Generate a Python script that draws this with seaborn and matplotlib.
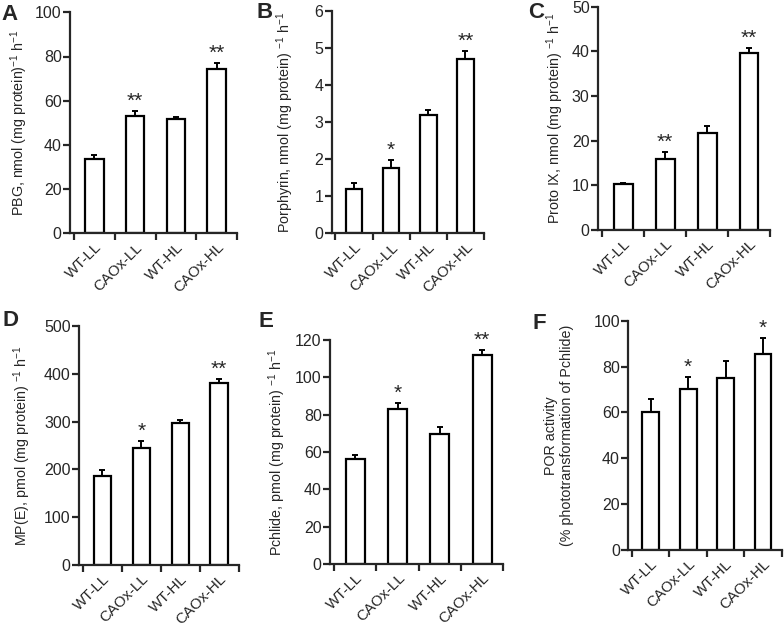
import numpy as np
import pandas as pd
import matplotlib
matplotlib.use("Agg")
import matplotlib.pyplot as plt
import seaborn as sns

sns.set_style("ticks")
plt.rcParams['font.family'] = ['Liberation Sans', 'DejaVu Sans']
plt.rcParams['mathtext.default'] = 'regular'

categories = ["WT-LL", "CAOx-LL", "WT-HL", "CAOx-HL"]

pbg_vals = [33.5, 53.0, 51.5, 74.5]
pbg_err = [2.0, 2.5, 1.3, 2.5]
pbg_sig = ["", "**", "", "**"]

porph_vals = [1.2, 1.75, 3.2, 4.7]
porph_err = [0.15, 0.22, 0.12, 0.23]
porph_sig = ["", "*", "", "**"]

proto_vals = [10.2, 16.0, 21.7, 39.7]
proto_err = [0.3, 1.5, 1.6, 1.1]
proto_sig = ["", "**", "", "**"]

mpe_vals = [187, 245, 298, 381]
mpe_err = [11, 15, 6, 9]
mpe_sig = ["", "*", "", "**"]

pchl_vals = [56, 83, 69.5, 112]
pchl_err = [2.5, 3.5, 4.0, 2.5]
pchl_sig = ["", "*", "", "**"]

por_vals = [60, 70, 75, 85.5]
por_err = [6, 5.5, 7.5, 7]
por_sig = ["", "*", "", "*"]

panels = [
    dict(letter="A", vals=pbg_vals, err=pbg_err, sig=pbg_sig, ymax=100, step=20,
         ylabel="PBG, nmol (mg protein)$^{-1}$ h$^{-1}$",
         box=(70, 12.3, 237, 233.3), letter_xy=(10, 14), label_x=30),
    dict(letter="B", vals=porph_vals, err=porph_err, sig=porph_sig, ymax=6, step=1,
         ylabel="Porphyrin, nmol (mg protein) $^{-1}$ h$^{-1}$",
         box=(331.7, 11, 484, 233.3), letter_xy=(265, 12), label_x=296),
    dict(letter="C", vals=proto_vals, err=proto_err, sig=proto_sig, ymax=50, step=10,
         ylabel="Proto IX, nmol (mg protein) $^{-1}$ h$^{-1}$",
         box=(598, 6.7, 770, 230), letter_xy=(536, 13), label_x=566),
    dict(letter="D", vals=mpe_vals, err=mpe_err, sig=mpe_sig, ymax=500, step=100,
         ylabel="MP(E), pmol (mg protein) $^{-1}$ h$^{-1}$",
         box=(79, 326, 238.7, 565), letter_xy=(10, 320), label_x=33),
    dict(letter="E", vals=pchl_vals, err=pchl_err, sig=pchl_sig, ymax=120, step=20,
         ylabel="Pchlide, pmol (mg protein) $^{-1}$ h$^{-1}$",
         box=(330, 340, 503.3, 564), letter_xy=(266, 321), label_x=288),
    dict(letter="F", vals=por_vals, err=por_err, sig=por_sig, ymax=100, step=20,
         ylabel="POR activity\n(% phototransformation of Pchlide)",
         box=(628.3, 320.7, 781.7, 550), letter_xy=(539, 323), label_x=574),
]

W, H = 784, 628
fig = plt.figure(figsize=(W / 100, H / 100), dpi=100)

for p in panels:
    x0, ytop, x1, ybot = p["box"]
    ax = fig.add_axes([x0 / W, 1 - ybot / H, (x1 - x0) / W, (ybot - ytop) / H])
    df = pd.DataFrame({"group": categories, "value": p["vals"]})
    sns.barplot(data=df, x="group", y="value", ax=ax, color="white",
                edgecolor="black", linewidth=1.6, width=0.45, errorbar=None)
    xs = np.arange(len(categories))
    ax.errorbar(xs, p["vals"], yerr=[np.zeros(4), p["err"]], fmt="none",
                ecolor="black", elinewidth=1.4, capsize=2.2, capthick=1.4, zorder=1)
    for xi, v, e, s in zip(xs, p["vals"], p["err"], p["sig"]):
        if s:
            ax.text(xi, v + e, s, ha="center", va="bottom", fontsize=15)
    ax.set_xlim(-0.6, 3.5)
    ax.set_ylim(0, p["ymax"])
    ax.set_yticks(np.arange(0, p["ymax"] + p["step"] / 2, p["step"]))
    ax.set_xticks(xs)
    ax.set_xticklabels(categories, rotation=45, ha="right", rotation_mode="anchor",
                       fontsize=10.8)
    ax.tick_params(axis="x", length=0, pad=5)
    ax.set_xticks([-0.5, 0.5, 1.5, 2.5, 3.5], minor=True)
    ax.tick_params(axis="x", which="minor", length=5, width=1.6, direction="out")
    ax.tick_params(axis="y", length=5, width=1.6, direction="out", labelsize=11.5, pad=1)
    ax.set_xlabel("")
    ax.set_ylabel(p["ylabel"], fontsize=10.3)
    ax.yaxis.set_label_coords((p["label_x"] - x0) / (x1 - x0), 0.5)
    for side in ("top", "right"):
        ax.spines[side].set_visible(False)
    for side in ("left", "bottom"):
        ax.spines[side].set_linewidth(1.6)
    fig.text(p["letter_xy"][0] / W, 1 - p["letter_xy"][1] / H, p["letter"],
             fontsize=16, fontweight="bold", ha="center", va="center")

fig.savefig("out.png", dpi=100)
